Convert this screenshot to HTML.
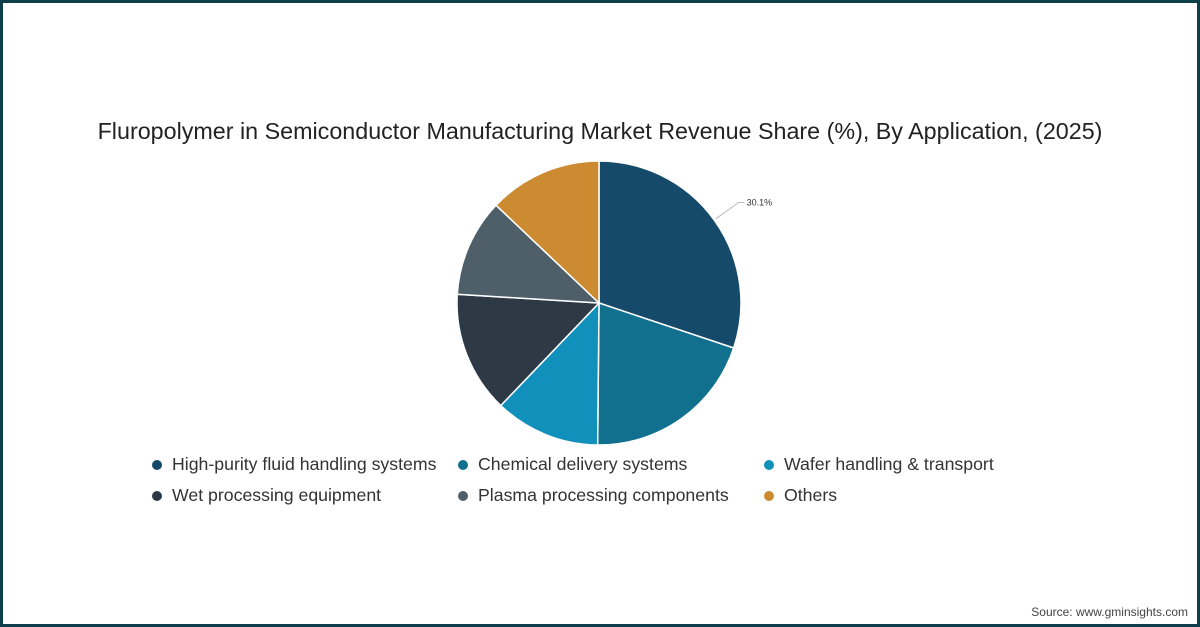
<!DOCTYPE html>
<html><head><meta charset="utf-8"><style>
html,body{margin:0;padding:0;}
body{width:1200px;height:627px;position:relative;background:#fff;font-family:"Liberation Sans",sans-serif;overflow:hidden;}
.frame{position:absolute;left:0;top:0;width:1194px;height:621px;border:3px solid #0e3e4a;}
.title{position:absolute;left:0;width:1200px;top:118px;text-align:center;font-size:23.3px;color:#222;}
.leg{position:absolute;font-size:17.7px;color:#333;}
.dot{position:absolute;width:10px;height:10px;border-radius:50%;}
.src{position:absolute;right:12px;bottom:8px;font-size:12px;color:#444;}
</style></head><body>
<div class="frame"></div>
<div class="title">Fluropolymer in Semiconductor Manufacturing Market Revenue Share (%), By Application, (2025)</div>
<svg id="pie" width="1200" height="627" style="position:absolute;left:0;top:0"></svg>
<div id="legend"></div>
<div class="src">Source: www.gminsights.com</div>
<script>
const categories=["High-purity fluid handling systems","Chemical delivery systems","Wafer handling & transport","Wet processing equipment","Plasma processing components","Others"];
const values=[30.1,20.0,12.0,13.8,11.1,12.9];
const colors=["#154a6b","#12708f","#1090bb","#2d3a45","#4f5f6a","#cc8b30"];
const labels=["30.1%"];
const cx=599,cy=303,r=142;
const svg=document.getElementById('pie');
const NS="http://www.w3.org/2000/svg";
const total=values.reduce((a,b)=>a+b,0);
let a0=0;
function pt(a,rr){return [cx+rr*Math.sin(a),cy-rr*Math.cos(a)];}
values.forEach((v,i)=>{
  const a1=a0+v/total*2*Math.PI;
  const p0=pt(a0,r),p1=pt(a1,r);
  const large=(a1-a0)>Math.PI?1:0;
  const p=document.createElementNS(NS,'path');
  p.setAttribute('d',`M${cx},${cy}L${p0[0]},${p0[1]}A${r},${r} 0 ${large} 1 ${p1[0]},${p1[1]}Z`);
  p.setAttribute('fill',colors[i]);p.setAttribute('stroke','#fff');p.setAttribute('stroke-width','1.5');
  
  
  svg.appendChild(p);
  if(labels[i]){
    const am=(a0+a1)/2;const q0=pt(am,r+2),q1=pt(am,r+30);
    const l=document.createElementNS(NS,'path');
    l.setAttribute('d',`M${q0[0]},${q0[1]}L${q1[0]},${q1[1]}L${q1[0]+6},${q1[1]}`);
    l.setAttribute('stroke','#bbb');l.setAttribute('fill','none');
    
    
    svg.appendChild(l);
    const t=document.createElementNS(NS,'text');
    t.setAttribute('x',q1[0]+8);t.setAttribute('y',q1[1]+3);t.setAttribute('font-size','9');t.setAttribute('fill','#333');
    t.textContent=labels[i];
    
    
    svg.appendChild(t);
  }
  a0=a1;
});
const lg=document.getElementById('legend');
const xs=[152,458,764],ys=[465,496];
categories.forEach((c,i)=>{
  const x=xs[i%3],y=ys[Math.floor(i/3)];
  const d=document.createElement('div');d.className='dot';
  d.style.left=x+'px';d.style.top=(y-5)+'px';d.style.background=colors[i];
  
  
  lg.appendChild(d);
  const t=document.createElement('div');t.className='leg';
  t.style.left=(x+20)+'px';t.style.top=(y-11)+'px';t.textContent=c;
  
  
  lg.appendChild(t);
});
</script>
</body></html>
